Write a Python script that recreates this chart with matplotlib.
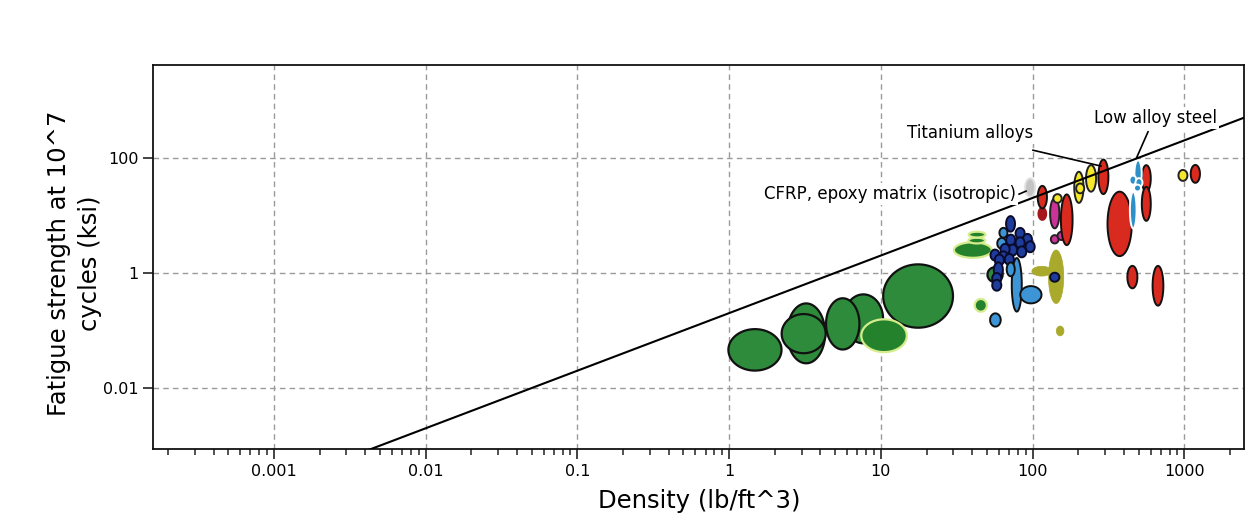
import numpy as np
import matplotlib
matplotlib.use("Agg")
import matplotlib.pyplot as plt
from matplotlib.ticker import LogLocator, FixedLocator, FixedFormatter, NullLocator

# material bubbles: (density lb/ft^3, fatigue strength ksi, width in decades, height in decades)
green_dark_edge = [
    (1.48, 0.046, 0.35, 0.72),
    (3.22, 0.089, 0.25, 1.04),
    (3.10, 0.088, 0.29, 0.68),
    (7.67, 0.159, 0.26, 0.85),
    (5.61, 0.130, 0.22, 0.89),
    (17.6, 0.396, 0.46, 1.10),
    (56.6, 0.93, 0.10, 0.26),
]
green_pale_edge = [
    (10.5, 0.081, 0.30, 0.57),
    (40.4, 2.49, 0.25, 0.27),
    (42.9, 3.64, 0.11, 0.10),
    (43.1, 4.62, 0.11, 0.10),
    (45.6, 0.273, 0.08, 0.22),
]
olive = [
    (143, 0.855, 0.10, 0.93),
    (115, 1.07, 0.13, 0.17),
    (152, 0.098, 0.05, 0.17),
]
light_blue = [
    (78.7, 0.62, 0.066, 0.93),
    (97.5, 0.417, 0.14, 0.30),
    (56.9, 0.152, 0.07, 0.23),
    (64.3, 4.97, 0.053, 0.17),
    (62.7, 3.25, 0.06, 0.19),
]
navy = [
    (71.6, 7.09, 0.059, 0.27),
    (82.8, 4.85, 0.06, 0.19),
    (92.5, 3.82, 0.06, 0.19),
    (71.8, 3.71, 0.06, 0.19),
    (82.8, 3.33, 0.06, 0.19),
    (96.4, 2.84, 0.06, 0.19),
    (74.0, 2.49, 0.06, 0.19),
    (65.9, 2.56, 0.06, 0.19),
    (56.6, 2.04, 0.06, 0.19),
    (64.3, 1.90, 0.06, 0.19),
    (84.9, 2.32, 0.06, 0.19),
    (70.3, 1.71, 0.06, 0.19),
    (60.4, 1.67, 0.06, 0.19),
    (59.5, 1.12, 0.06, 0.27),
    (58.1, 0.80, 0.06, 0.19),
    (58.1, 0.61, 0.06, 0.19),
    (140, 0.84, 0.061, 0.156),
]
light_blue_front = [
    (71.8, 1.15, 0.053, 0.24),
]
gray = [(96.4, 30.3, 0.066, 0.32)]
dark_red = [(116, 10.6, 0.051, 0.21)]
magenta = [
    (140, 10.8, 0.061, 0.52),
    (140, 3.83, 0.051, 0.144),
    (155, 4.39, 0.051, 0.144),
]
red = [
    (116, 20.7, 0.061, 0.39),
    (168, 8.36, 0.077, 0.88),
    (293, 46.6, 0.066, 0.60),
    (375, 7.09, 0.160, 1.12),
    (562, 43.7, 0.059, 0.46),
    (562, 15.8, 0.059, 0.59),
    (1183, 52.4, 0.061, 0.31),
    (455, 0.845, 0.066, 0.39),
    (671, 0.597, 0.071, 0.69),
]
yellow = [
    (146, 19.6, 0.055, 0.15),
    (202, 30.6, 0.061, 0.54),
    (206, 29.3, 0.053, 0.17),
    (243, 43.7, 0.066, 0.46),
    (980, 49.3, 0.059, 0.19),
]
steel_blue = [
    (496, 53.4, 0.048, 0.46),
    (461, 12.3, 0.044, 0.64),
    (459, 40.8, 0.046, 0.156),
    (503, 36.9, 0.046, 0.156),
    (492, 29.7, 0.046, 0.12),
]

# guideline: strength = C * density
guide_c = 0.2
guide_x = [1e-4, 1e4]

# annotations: text, text position, ha, leader start, leader end
notes = [
    ("Titanium alloys", (38.7, 273), "center", (100.7, 135), (283, 71.5)),
    ("Low alloy steel", (647, 493), "center", (577, 282), (486, 101)),
    ("CFRP, epoxy matrix (isotropic)", (77.8, 23.3), "right", (81.5, 23.3), (90.6, 26.3)),
]

x_ticks = [0.001, 0.01, 0.1, 1, 10, 100, 1000]
x_labels = ["0.001", "0.01", "0.1", "1", "10", "100", "1000"]
y_ticks = [0.01, 1, 100]
y_labels = ["0.01", "1", "100"]

plt.rcParams["font.family"] = ["DejaVu Sans"]

fig = plt.figure(figsize=(12.54, 5.29), dpi=100)
ax = fig.add_axes([0.1222, 0.1507, 0.8701, 0.7264])
ax.set_xscale("log")
ax.set_yscale("log")
ax.set_xlim(1.6e-4, 2489)
ax.set_ylim(8.63e-4, 4074)

t = np.linspace(0, 2 * np.pi, 120)


def draw(items, face, edge, lw=1.4, z=2):
    for x, y, w, h in items:
        lx = np.log10(x) + w / 2 * np.cos(t)
        ly = np.log10(y) + h / 2 * np.sin(t)
        ax.fill(10 ** lx, 10 ** ly, facecolor=face, edgecolor=edge, lw=lw, zorder=z)


draw(green_dark_edge, "#2e8b3c", "#111111", lw=1.6)
draw(green_pale_edge, "#24822c", "#d5ec8c", lw=1.6)
draw(olive, "#a9a92b", "#a9a92b", lw=0.5)
draw(light_blue, "#3d95d6", "#111111")
draw(navy, "#1d3c9c", "#0a0a2a")
draw(light_blue_front, "#3d95d6", "#111111")
draw(gray, "#c4c4c4", "#e0e0e0")
draw(dark_red, "#a5161a", "#a5161a")
draw(magenta, "#cc3399", "#222222")
draw(red, "#d92a1f", "#111111")
draw(yellow, "#f5e72a", "#222222")
draw(steel_blue, "#2f8fc8", "#ffffff")

gx = np.array(guide_x)
ax.plot(gx, guide_c * gx, color="black", lw=1.5, zorder=4)

for text, pos, ha, p0, p1 in notes:
    ax.plot([p0[0], p1[0]], [p0[1], p1[1]], color="black", lw=1.2, zorder=6)
    ax.text(pos[0], pos[1], text, ha=ha, va="center", fontsize=12, zorder=5,
            bbox=dict(facecolor="white", edgecolor="none", pad=1.5))

ax.xaxis.set_major_locator(FixedLocator(x_ticks))
ax.xaxis.set_major_formatter(FixedFormatter(x_labels))
ax.xaxis.set_minor_locator(LogLocator(base=10, subs=np.arange(2, 10), numticks=20))
ax.yaxis.set_major_locator(FixedLocator(y_ticks))
ax.yaxis.set_major_formatter(FixedFormatter(y_labels))
ax.yaxis.set_minor_locator(NullLocator())

ax.tick_params(axis="both", which="major", direction="out", length=7, width=1.2, labelsize=11.5, color="#222222")
ax.tick_params(axis="x", which="minor", direction="out", length=4.5, width=1.1, color="#222222")
for s in ax.spines.values():
    s.set_linewidth(1.3)
    s.set_color("#111111")

ax.grid(True, which="major", color="#9a9a9a", linestyle=(0, (4, 3)), lw=1.0, zorder=0)
ax.set_axisbelow(True)

ax.set_xlabel("Density (lb/ft^3)", fontsize=17.5)
ax.xaxis.label.set_va("center")
ax.xaxis.set_label_coords(0.5, -0.135)
ax.set_ylabel("Fatigue strength at 10^7\ncycles (ksi)", fontsize=17.5, linespacing=1.35)
ax.yaxis.label.set_va("center")
ax.yaxis.set_label_coords(-0.072, 0.484)

fig.savefig("out.png", dpi=100, facecolor="white")
